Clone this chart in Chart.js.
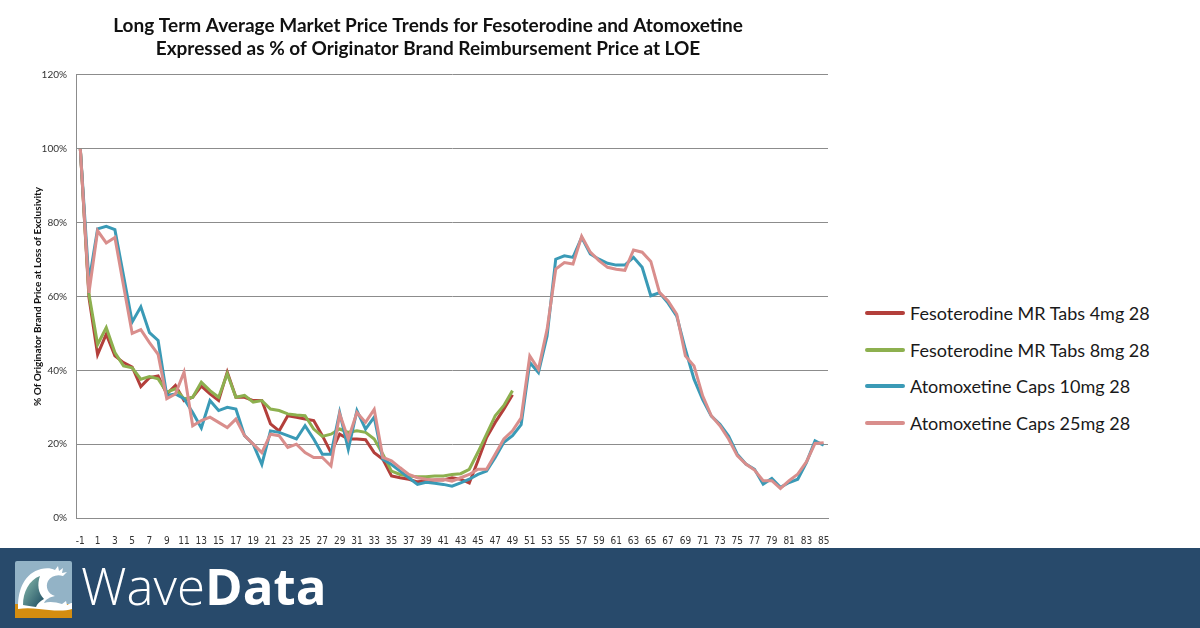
<!DOCTYPE html>
<html>
<head>
<meta charset="utf-8">
<script src="https://cdn.jsdelivr.net/npm/chart.js@4.4.1/dist/chart.umd.min.js"></script>
<style>
  html, body { margin: 0; padding: 0; background: #fff; }
  #page { position: relative; width: 1200px; height: 628px; overflow: hidden; background: #fff; }
  #chartBox { position: absolute; left: 0; top: 0; width: 840px; height: 548px; }
  #legend { position: absolute; left: 865px; top: 295px; font-family: Lato, "Open Sans", sans-serif; font-size: 18px; color: #1a1a1a; }
  #legend .item { height: 36.5px; display: flex; align-items: center; white-space: nowrap; }
  #legend .swatch { width: 40px; height: 4px; border-radius: 2px; margin-right: 5px; }
  #footer { position: absolute; left: 0; top: 548px; width: 1200px; height: 80px; background: #284a6b; }
  #logo { position: absolute; left: 15px; top: 13px; }
  #brand { position: absolute; left: 81px; top: 2px; font-family: "Open Sans", Lato, sans-serif; font-size: 51px; color: #fff; line-height: 70px; }
  #brand .thin { font-weight: 300; }
  #brand .bold { font-weight: 700; }
</style>
</head>
<body>
<div id="page">
  <div id="chartBox"><canvas id="trendChart"></canvas></div>
  <div id="legend"></div>
  <div id="footer">
    <svg id="logo" width="57" height="57" viewBox="0 0 57 57">
      <defs>
        <linearGradient id="waveFill" x1="0" y1="0" x2="1" y2="1">
          <stop offset="0" stop-color="#8cc0b0"/>
          <stop offset="1" stop-color="#1c4a60"/>
        </linearGradient>
      </defs>
      <rect x="0" y="0" width="57" height="57" rx="2" fill="#93b3c6"/>
      <rect x="0" y="43" width="57" height="14" fill="#d48d10"/>
      <path d="M3 46 C3 28 10 12 26 8 C31 7 36 7 40 9 L43 5 L44 10 L48 7 L47 12 L52 11 L48 15 C42 13 36 15 33 20 C30 26 33 33 40 35 C35 36 31 38 29 42 C34 40 41 41 47 43 L51 40 L52 44 L56 42 L57 42 L57 48 C48 51 34 49 24 48 C16 47 9 47 3 48 Z" fill="#fff"/>
      <path d="M8 44 C8 31 14 19 25 15 C22 23 23 32 29 38 C25 40 22 43 21 46 C16 45 12 45 8 44 Z" fill="url(#waveFill)"/>
    </svg>
    <div id="brand"><span class="thin">Wave</span><span class="bold">Data</span></div>
  </div>
</div>

<script>
// Months relative to loss of exclusivity
const months = [-1, 0, 1, 2, 3, 4, 5, 6, 7, 8, 9, 10, 11, 12, 13, 14, 15, 16, 17, 18, 19, 20,
  21, 22, 23, 24, 25, 26, 27, 28, 29, 30, 31, 32, 33, 34, 35, 36, 37, 38, 39, 40, 41, 42, 43,
  44, 45, 46, 47, 48, 49, 50, 51, 52, 53, 54, 55, 56, 57, 58, 59, 60, 61, 62, 63, 64, 65, 66,
  67, 68, 69, 70, 71, 72, 73, 74, 75, 76, 77, 78, 79, 80, 81, 82, 83, 84, 85];

// % of originator brand price
const fesoterodine4mg = [100, 59.7, 44.3, 49.8, 43.9, 42.1, 40.9, 35.6, 38, 38.5,
  33.6, 35.9, 31.8, 32.7, 35.7, 33.6, 31.8, 39.5, 32.7, 32.7, 31.8, 31.8, 25.5, 23.6, 27.7,
  27.3, 26.8, 26.4, 22.3, 17.7, 22.7, 21.4, 21.4, 21.2, 17.7, 15.9, 11.4, 10.9, 10.5, 9.8,
  10, 10.3, 10.3, 10.9, 10.5, 9.5, 15.5, 21.8, 25.9, 29.5, 33.4];

const fesoterodine8mg = [100, 60.6, 47, 51.6, 44.8, 41.2, 40.7, 37.6, 38.3, 37.7,
  34.1, 35, 32.3, 32.7, 36.8, 34.5, 32.7, 39.1, 32.7, 33.2, 31.4, 31.8, 29.5, 29.1, 28.2,
  27.9, 27.7, 24.1, 22.1, 22.7, 24.1, 23.2, 23.6, 23.2, 21.4, 17.3, 12.7, 11.8, 11.4, 11.2,
  11.2, 11.4, 11.4, 11.8, 12, 13.2, 17.8, 22.7, 27.7, 30.5, 34.5];

const atomoxetine10mg = [100, 64, 78.3, 79, 78.1, 65.6, 53.1, 57.2, 50.2, 48.1,
  33.2, 33.6, 32.3, 28.6, 24.4, 31.8, 29.1, 30, 29.5, 22.3, 20, 14.5, 23.6, 23.2, 22.3,
  21.4, 25, 21.4, 17.3, 17.3, 28.6, 18.6, 29.1, 24.1, 27.3, 15.9, 14.5, 12.7, 10.9, 9.1,
  9.7, 9.4, 9.1, 8.6, 9.5, 10.5, 11.8, 12.7, 16.4, 20.5, 22.3, 25.3, 42.1, 39.4, 49.3,
  70.1, 71, 70.6, 76, 71.5, 70.1, 69, 68.5, 68.5, 70.6, 67.9, 60.2, 61, 58.2, 54.7,
  45.7, 37.6, 32.1, 27.6, 25.4, 22.2, 17.3, 14.6, 13.2, 9.2, 10.7, 8.3, 9.6, 10.5, 15,
  20.9, 19.7];

const atomoxetine25mg = [100, 61, 77.8, 74.5, 76, 62.9, 50, 51, 47.5, 44.3,
  32.3, 33.6, 39.5, 25, 26.4, 27.3, 25.9, 24.5, 26.8, 22.3, 20, 17.7, 22.7, 22.3, 19.1,
  20, 17.7, 16.4, 16.4, 14.1, 28.2, 21.4, 28.6, 25.9, 29.4, 16.4, 15.5, 13.6, 11.8, 10.9,
  10.5, 10.3, 10.5, 10, 10.9, 11.8, 13.2, 13.2, 17.3, 21.4, 23.6, 27.1, 43.9, 40.3, 51.1,
  67.4, 69.2, 68.8, 76.3, 72, 69.7, 67.9, 67.4, 67.1, 72.6, 72, 69.5, 61.1, 58.8, 55.2,
  43.9, 41.2, 33.1, 27.7, 25, 21.4, 16.9, 14.6, 13, 10.1, 10.1, 8, 10.1, 11.9, 15.2,
  20.2, 20.4];

const seriesNames = ['Fesoterodine MR Tabs 4mg 28', 'Fesoterodine MR Tabs 8mg 28',
  'Atomoxetine Caps 10mg 28', 'Atomoxetine Caps 25mg 28'];
const seriesColors = ['#b33f3b', '#8db04f', '#3a9ab6', '#d98e8c'];
const seriesData = [fesoterodine4mg, fesoterodine8mg, atomoxetine10mg, atomoxetine25mg];

document.addEventListener('DOMContentLoaded', function() {
    const datasets = seriesNames.map((name, i) => ({
        label: name,
        data: seriesData[i],
        borderColor: seriesColors[i],
        backgroundColor: seriesColors[i],
        borderWidth: 3,
        pointRadius: 0,
        tension: 0,
        fill: false,
        order: 4 - i   // later series on top, like the original
    }));

    const ctx = document.getElementById('trendChart').getContext('2d');
    new Chart(ctx, {
        type: 'line',
        data: { labels: months, datasets: datasets },
        options: {
            responsive: true,
            maintainAspectRatio: false,
            animation: false,
            layout: { padding: { left: 28, right: 12, top: 0, bottom: 0 } },
            plugins: {
                legend: { display: false },
                tooltip: { enabled: false },
                title: {
                    display: true,
                    text: ['Long Term Average Market Price Trends for Fesoterodine and Atomoxetine',
                           'Expressed as % of Originator Brand Reimbursement Price at LOE'],
                    color: '#111',
                    font: { family: 'Lato, "Open Sans", sans-serif', size: 19, weight: 'bold', lineHeight: 1.21 },
                    padding: { top: 14, bottom: 15 }
                }
            },
            scales: {
                x: {
                    offset: true,
                    grid: { display: false },
                    border: { color: '#8c8c8c', width: 1 },
                    ticks: {
                        autoSkip: false,
                        maxRotation: 0,
                        padding: 9,
                        color: '#333',
                        font: { family: '"Liberation Sans Narrow", "DejaVu Sans Condensed", sans-serif', size: 10 },
                        callback: function(value, index) {
                            return index % 2 === 0 ? months[index] : '';
                        }
                    },
                    afterFit: function(scale) { scale.height = 30; }
                },
                y: {
                    min: 0,
                    max: 120,
                    grid: { color: '#8c8c8c', lineWidth: 1, drawTicks: false },
                    border: { color: '#8c8c8c', width: 1 },
                    ticks: {
                        stepSize: 20,
                        padding: 9,
                        color: '#333',
                        font: { family: 'Lato, "Open Sans", sans-serif', size: 10 },
                        callback: function(value) { return value + '%'; }
                    },
                    title: {
                        display: true,
                        text: '% Of Originator Brand Price at Loss of Exclusivity',
                        color: '#111',
                        font: { family: 'Lato, "Open Sans", sans-serif', size: 10, weight: 'bold' },
                        padding: { top: 4, bottom: 0 }
                    },
                    afterFit: function(scale) { scale.width = 48; }
                }
            }
        }
    });

    // Legend on the right side
    const legend = document.getElementById('legend');
    seriesNames.forEach((name, i) => {
        const item = document.createElement('div');
        item.className = 'item';
        const swatch = document.createElement('span');
        swatch.className = 'swatch';
        swatch.style.background = seriesColors[i];
        const text = document.createElement('span');
        text.textContent = name;
        item.appendChild(swatch);
        item.appendChild(text);
        legend.appendChild(item);
    });
});
</script>
</body>
</html>
